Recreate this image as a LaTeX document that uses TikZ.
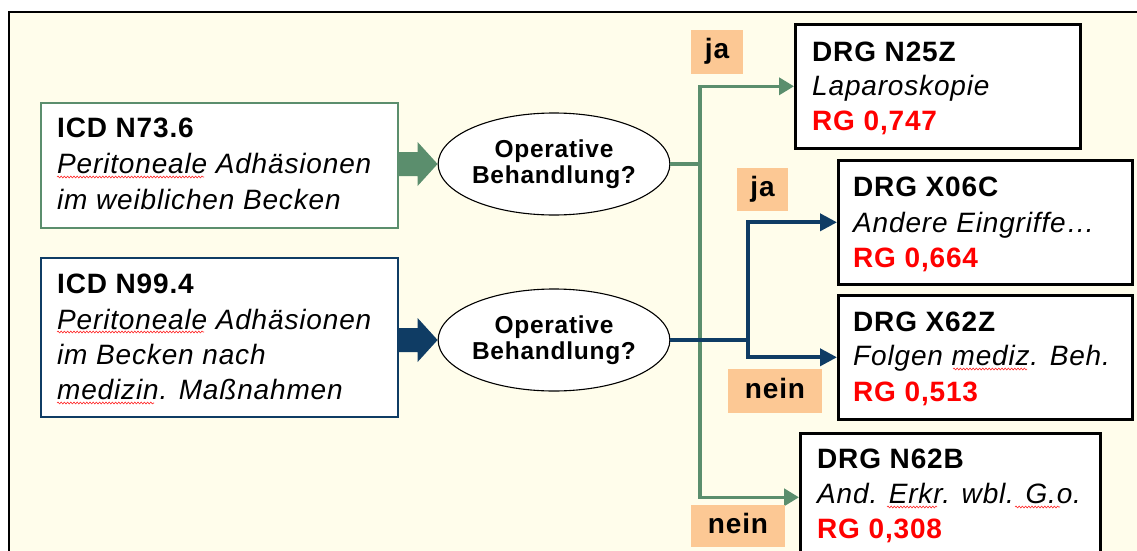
\documentclass[tikz,border=0pt]{standalone}
\usepackage{fontspec}
\setmainfont{Liberation Sans}[LetterSpace=3]
\usetikzlibrary{arrows.meta,shapes.geometric,calc,decorations.pathmorphing}
\definecolor{bg}{HTML}{FFFDEB}
\definecolor{gc}{HTML}{5B8E6D}
\definecolor{bc}{HTML}{0F3C64}
\definecolor{peach}{HTML}{FCC894}
\definecolor{rgred}{HTML}{FF0000}
\begin{document}
\begin{tikzpicture}[x=1pt,y=-1pt,
  icdbox/.style={draw, fill=white, line width=2.4pt, anchor=north west, inner sep=0pt},
  drgbox/.style={draw=black, fill=white, line width=2.6pt, anchor=north west, inner sep=0pt},
  txt/.style={anchor=base west, inner sep=0pt, font=\fontsize{28}{34}\selectfont},
  qell/.style={ellipse, draw=black, line width=1.1pt, fill=white, minimum width=210pt, minimum height=102pt, inner sep=0pt, align=center, font=\bfseries\fontsize{24.5}{25.5}\selectfont},
  lab/.style={fill=peach, inner sep=0pt, text height=20pt, text depth=6pt, font=\bfseries\fontsize{28}{34}\selectfont},
  garr/.style={draw=gc, line width=3.6pt, -{Triangle[length=15pt,width=17pt]}},
  barr/.style={draw=bc, line width=3.8pt, -{Triangle[length=17pt,width=17pt]}},
  wavy/.style={draw=red!85, line width=0.6pt, decorate, decoration={snake, amplitude=0.9pt, segment length=3.2pt}}
]
\useasboundingbox (0,0) rectangle (1137,551);
\begin{scope}
\clip (0,0) rectangle (1137,551);
\fill[bg] (9,12) rectangle (1160,570);
\draw[black, line width=2.4pt] (9,570) -- (9,12) -- (1160,12);

% ICD boxes
\node[icdbox, draw=gc, minimum width=357pt, minimum height=125pt] (icd1) at (40,102) {};
\node[icdbox, draw=bc, minimum width=357pt, minimum height=159pt] (icd2) at (40,257) {};

\node[txt] (t11) at (57,137) {\textbf{ICD N73.6}};
\node[txt] (t12) at (57,173) {\textit{Peritoneale Adhäsionen}};
\node[txt] (t13) at (57,209) {\textit{im weiblichen Becken}};

\node[txt] (t21) at (57,293) {\textbf{ICD N99.4}};
\node[txt] (t22) at (57,329) {\textit{Peritoneale Adhäsionen}};
\node[txt] (t23) at (57,364) {\textit{im Becken nach}};
\node[txt] (t24) at (57,399) {\textit{medizin. Maßnahmen}};

% decision ellipses
\node[qell] (e1) at (554,164) {Operative\\Behandlung?};
\node[qell] (e2) at (554,340) {Operative\\Behandlung?};

% DRG boxes
\node[drgbox, minimum width=285pt, minimum height=124pt] (n25z) at (794,23) {};
\node[drgbox, minimum width=294pt, minimum height=124pt] (x06c) at (837,159) {};
\node[drgbox, minimum width=294pt, minimum height=124pt] (x62z) at (837,294) {};
\node[drgbox, minimum width=300pt, minimum height=128pt] (n62b) at (799,432) {};

\node[txt] (d11) at (812,61) {\textbf{DRG N25Z}};
\node[txt] (d12) at (812,95) {\textit{Laparoskopie}};
\node[txt, text=rgred] (d13) at (812,130) {\textbf{RG 0,747}};

\node[txt] (d21) at (853,196) {\textbf{DRG X06C}};
\node[txt] (d22) at (853,232) {\textit{Andere Eingriffe…}};
\node[txt, text=rgred] (d23) at (853,267) {\textbf{RG 0,664}};

\node[txt] (d31) at (853,331) {\textbf{DRG X62Z}};
\node[txt] (d32) at (853,365) {\textit{Folgen mediz. Beh.}};
\node[txt, text=rgred] (d33) at (853,401) {\textbf{RG 0,513}};

\node[txt] (d41) at (817,468) {\textbf{DRG N62B}};
\node[txt] (d42) at (817,503) {\textit{And. Erkr. wbl. G.o.}};
\node[txt, text=rgred] (d43) at (817,538) {\textbf{RG 0,308}};

% block arrows
\fill[gc] ($(icd1.east|-e1.west)+(-1,-12)$) -- ($(e1.west)+(-20,-12)$) -- ($(e1.west)+(-20,-22)$) -- (e1.west) -- ($(e1.west)+(-20,22)$) -- ($(e1.west)+(-20,12)$) -- ($(icd1.east|-e1.west)+(-1,12)$) -- cycle;
\fill[bc] ($(icd2.east|-e2.west)+(-1,-12)$) -- ($(e2.west)+(-20,-12)$) -- ($(e2.west)+(-20,-22)$) -- (e2.west) -- ($(e2.west)+(-20,22)$) -- ($(e2.west)+(-20,12)$) -- ($(icd2.east|-e2.west)+(-1,12)$) -- cycle;

% green connectors
\coordinate (gj) at (700,164);
\draw[draw=gc, line width=3.6pt] (e1.east) -- (gj);
\draw[garr] (gj) |- (n25z.west);
\draw[garr] (gj) |- (n62b.west);

% blue connectors
\coordinate (bj) at (748,340);
\draw[draw=bc, line width=3.8pt] (e2.east) -- (bj);
\draw[barr] (bj) |- (x06c.west);
\draw[barr] (bj) |- (x62z.west);

% labels
\node[lab, minimum width=52pt, minimum height=43pt] (ja1) at (717,52) {ja};
\node[lab, minimum width=51pt, minimum height=43pt] (ja2) at (762.5,189.5) {ja};
\node[lab, minimum width=94pt, minimum height=44pt] (nein1) at (775,391) {nein};
\node[lab, minimum width=94pt, minimum height=42pt] (nein2) at (738,526) {nein};

% spell-check underlines
\draw[wavy] (57,177) -- (204,177);
\draw[wavy] (57,332) -- (204,332);
\draw[wavy] (57,403) -- (154,403);
\draw[wavy] (953,369) -- (1027,369);
\draw[wavy] (887,507) -- (937,507);
\draw[wavy] (1015,507) -- (1060,507);
\end{scope}
\end{tikzpicture}
\end{document}
